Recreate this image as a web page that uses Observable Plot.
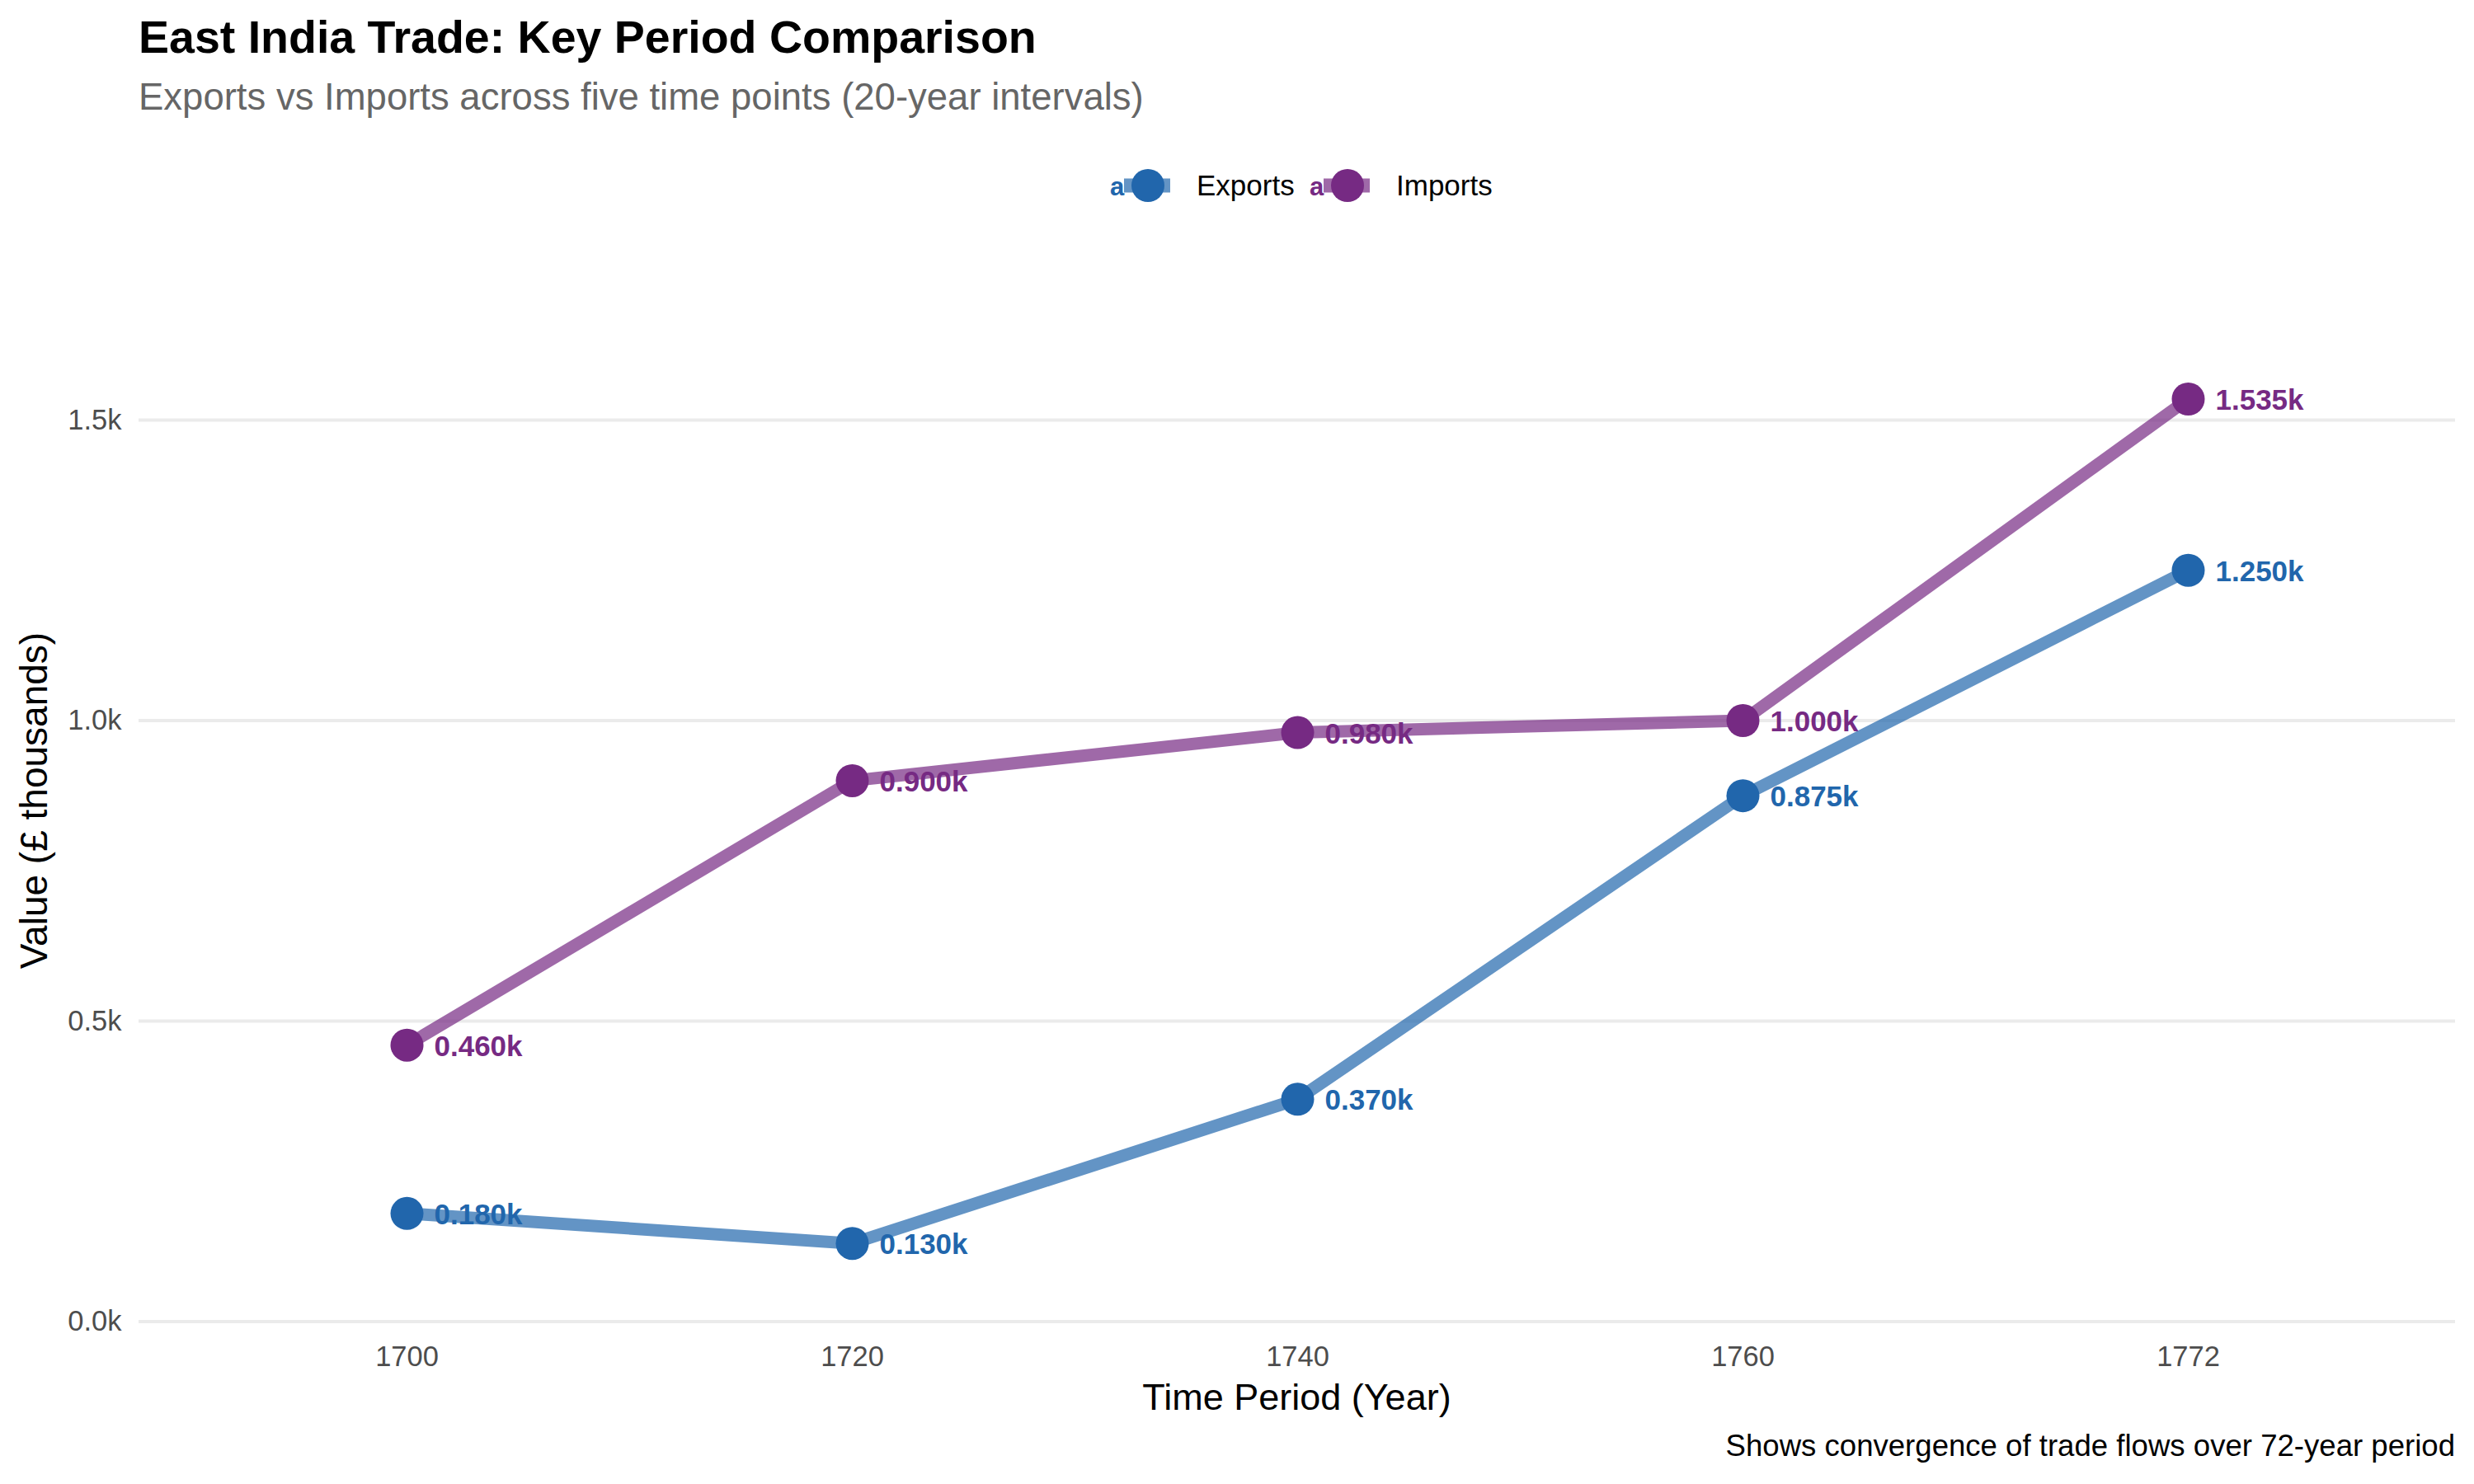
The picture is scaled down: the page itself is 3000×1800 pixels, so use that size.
<!DOCTYPE html>
<html>
<head>
<meta charset="utf-8">
<script src="https://cdn.jsdelivr.net/npm/d3@7"></script>
<script src="https://cdn.jsdelivr.net/npm/@observablehq/plot@0.6"></script>
<style>
  html, body { margin: 0; padding: 0; background: #ffffff; }
  body { width: 3000px; font-family: "Liberation Sans", Arial, Helvetica, sans-serif; }
  #header { position: relative; height: 280px; }
  #title { position: absolute; left: 168px; top: 18px; font-size: 55.5px; font-weight: bold; line-height: 1; color: #000; white-space: nowrap; }
  #subtitle { position: absolute; left: 168px; top: 95px; font-size: 45.5px; line-height: 1; color: #666666; white-space: nowrap; }
  #legend { position: absolute; left: 0; top: 0; }
  #plotwrap { position: relative; height: 1450px; }
  #plotwrap svg.plot { position: absolute; left: 0; top: 0; }
  #xtitle { position: absolute; left: 168px; width: 2809px; top: 1392px; text-align: center; font-size: 45px; line-height: 1; color: #000; }
  #ytitle { position: absolute; width: 800px; height: 46px; left: -359px; top: 668px; text-align: center; font-size: 46px; line-height: 1; color: #000; transform: rotate(-90deg); transform-origin: 50% 50%; white-space: nowrap; }
  #caption { position: relative; height: 70px; }
  #captext { position: absolute; right: 23px; top: 6px; font-size: 36.6px; line-height: 1; color: #000; white-space: nowrap; }
</style>
</head>
<body>
<div id="header">
  <div id="title">East India Trade: Key Period Comparison</div>
  <div id="subtitle">Exports vs Imports across five time points (20-year intervals)</div>
</div>
<div id="plotwrap">
  <div id="xtitle">Time Period (Year)</div>
  <div id="ytitle">Value (£ thousands)</div>
</div>
<div id="caption"><div id="captext">Shows convergence of trade flows over 72-year period</div></div>
<script>
// ---- data ----
const years = ["1700", "1720", "1740", "1760", "1772"];
const exportsValues = [0.180, 0.130, 0.370, 0.875, 1.250];
const importsValues = [0.460, 0.900, 0.980, 1.000, 1.535];
const seriesNames = ["Exports", "Imports"];
const seriesColors = ["#2166ac", "#762a83"];
const yTicks = [0, 0.5, 1.0, 1.5];

const rows = [];
years.forEach((y, i) => rows.push({year: y, value: exportsValues[i], series: seriesNames[0]}));
years.forEach((y, i) => rows.push({year: y, value: importsValues[i], series: seriesNames[1]}));

const fontFamily = '"Liberation Sans", Arial, Helvetica, sans-serif';

const plot = Plot.plot({
  width: 3000,
  height: 1450,
  marginLeft: 168,
  marginRight: 23,
  marginTop: 229,
  marginBottom: 127.5,
  style: {fontFamily, fontSize: "34.5px", background: "transparent", color: "#4d4d4d"},
  x: {type: "point", domain: years, padding: 0.6, label: null},
  y: {domain: [0, 1.5], label: null},
  color: {domain: seriesNames, range: seriesColors},
  marks: [
    Plot.gridY(yTicks, {stroke: "#ebebeb", strokeWidth: 4, strokeOpacity: 1}),
    Plot.axisY(yTicks, {tickSize: 0, tickPadding: 21, fontSize: 34.5, tickFormat: d => d.toFixed(1) + "k", label: null}),
    Plot.axisX({tickSize: 0, tickPadding: 29, fontSize: 34.5, label: null}),
    Plot.lineY(rows, {x: "year", y: "value", z: "series", stroke: "series", strokeWidth: 15, strokeOpacity: 0.7, strokeLinecap: "butt"}),
    Plot.dot(rows, {x: "year", y: "value", fill: "series", r: 20}),
    Plot.text(rows, {x: "year", y: "value", text: d => d.value.toFixed(3) + "k", fill: "series", dx: 33, dy: 2, textAnchor: "start", fontWeight: "bold", fontSize: 35})
  ]
});
plot.classList.add("plot");
document.getElementById("plotwrap").appendChild(plot);

// ---- legend ----
const leg = d3.select("#header").append("svg").attr("id", "legend").attr("width", 3000).attr("height", 280);
seriesNames.forEach((name, i) => {
  const g = leg.append("g").attr("transform", `translate(${i * 242},0)`);
  g.append("rect").attr("x", 1363).attr("y", 216.5).attr("width", 56).attr("height", 17)
    .attr("fill", seriesColors[i]).attr("fill-opacity", 0.7);
  g.append("circle").attr("cx", 1392).attr("cy", 225).attr("r", 20).attr("fill", seriesColors[i]);
  g.append("text").attr("x", 1346).attr("y", 237).attr("font-size", 31).attr("font-weight", "bold")
    .attr("font-family", fontFamily).attr("fill", seriesColors[i]).text("a");
  g.append("text").attr("x", 1451).attr("y", 237).attr("font-size", 35)
    .attr("font-family", fontFamily).attr("fill", "#000").text(name);
});
</script>
</body>
</html>
